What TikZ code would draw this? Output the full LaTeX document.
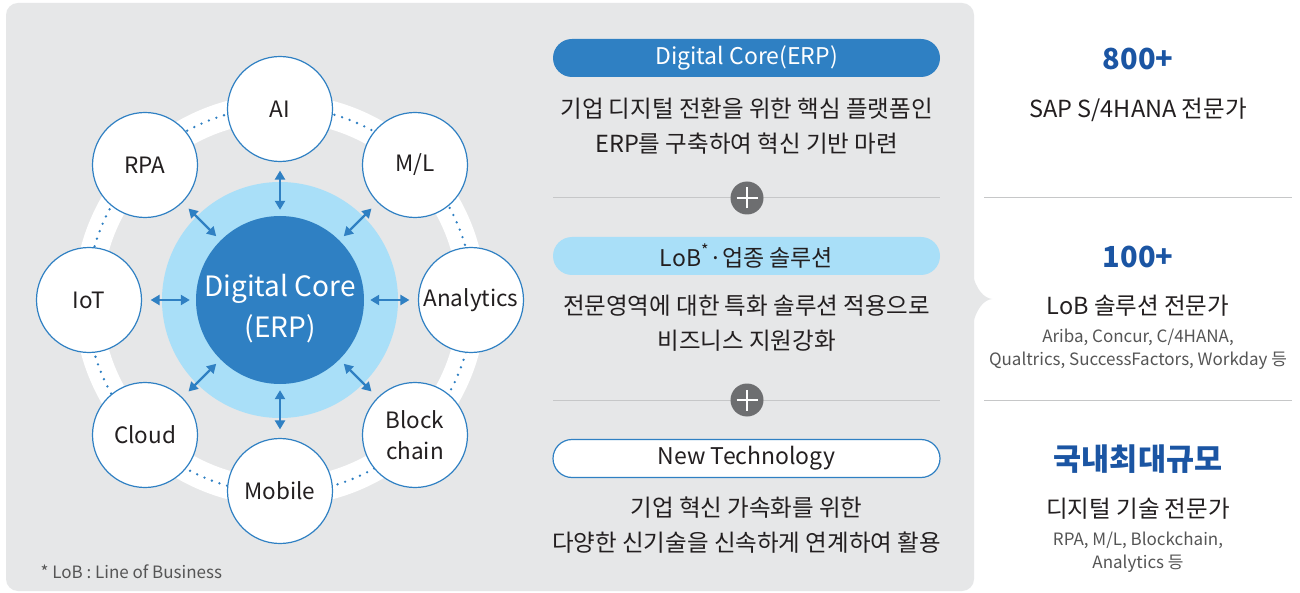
\documentclass[tikz,border=0pt]{standalone}
\usepackage{fontspec}
\setmainfont{Noto Sans CJK KR}
\usetikzlibrary{arrows.meta,calc}
\definecolor{panel}{HTML}{E6E7E8}
\definecolor{coreb}{HTML}{2F80C3}
\definecolor{lightb}{HTML}{A9DFF8}
\definecolor{numb}{HTML}{1B55A3}
\definecolor{plusg}{HTML}{6D6E70}
\definecolor{sepg}{HTML}{C6C7C8}
\definecolor{txt}{HTML}{231F20}
\definecolor{smallg}{HTML}{555555}
\tikzset{
  sat/.style={circle, draw=coreb, line width=1.2pt, fill=white, minimum size=105pt, inner sep=0pt,
    font=\fontsize{22.5}{31}\selectfont, text=txt, align=center},
  arr/.style={coreb, line width=2.2pt, {Triangle[length=9pt,width=10pt]}-{Triangle[length=9pt,width=10pt]},
    shorten <=6pt, shorten >=8.5pt},
  pill/.style={rounded corners=19pt, minimum width=387pt, minimum height=38pt, inner sep=0pt,
    font=\fontsize{23}{26}\selectfont},
  body/.style={align=center, text=txt, font=\fontsize{23.5}{35}\selectfont},
  sepline/.style={sepg, line width=1pt},
  plusc/.style={circle, fill=plusg, minimum size=33pt, inner sep=0pt,
    path picture={\draw[white, line width=1.6pt]
      ([xshift=-10.5pt]path picture bounding box.center) -- ([xshift=10.5pt]path picture bounding box.center)
      ([yshift=-10.5pt]path picture bounding box.center) -- ([yshift=10.5pt]path picture bounding box.center);}},
  bignum/.style={text=numb, font=\fontsize{29}{36}\selectfont\bfseries},
  rtitle/.style={text=txt, font=\fontsize{23.5}{28}\selectfont},
  rsmall/.style={text=smallg, align=center, font=\fontsize{17}{23}\selectfont}
}
\begin{document}
\begin{tikzpicture}[x=1pt,y=-1pt]
\useasboundingbox (0,0) rectangle (1300,593);
\fill[white] (0,0) rectangle (1300,593);
% panel
\fill[panel, rounded corners=12pt] (6,3) rectangle (974,591);
\fill[panel] (972,272) .. controls (976,290) and (984,298) .. (992,299)
  .. controls (984,300) and (976,308) .. (972,328) -- cycle;
% ring
\draw[white, line width=28pt] (280,300) circle (192pt);
\draw[coreb, line width=2.6pt, line cap=round, dash pattern=on 0pt off 8pt] (280,300) circle (193pt);
% core
\node[circle, fill=lightb, minimum size=236pt, inner sep=0pt] (lb) at (280,300) {};
\node[circle, fill=coreb, minimum size=168pt, inner sep=0pt] (c) at (280,300) {};
\node[text=white, align=center, font=\fontsize{28}{41}\selectfont] (ctext) at (280,309) {Digital Core\\(ERP)};
% satellites
\node[sat] (ai) at (280,109) {AI};
\node[sat] (ml) at (415,165) {M/L};
\node[sat] (an) at (471,300) {Analytics};
\node[sat] (bc) at (415,435) {Block\\chain};
\node[sat] (mo) at (280,491) {Mobile};
\node[sat] (cl) at (145,435) {Cloud};
\node[sat] (io) at (89,300) {IoT};
\node[sat] (rp) at (145,165) {RPA};
\foreach \s in {ai,ml,an,bc,mo,cl,io,rp} {\draw[arr] (c) -- (\s);}
% footnote
\node[anchor=west, text=smallg, font=\fontsize{17}{20}\selectfont] (fn) at (37,572) {* LoB : Line of Business};
% middle column
\node[pill, fill=coreb, text=white] (p1) at (746.5,58) {Digital Core(ERP)};
\node[body] (t1) at (746.5,126) {기업 디지털 전환을 위한 핵심 플랫폼인\\ERP를 구축하여 혁신 기반 마련};
\draw[sepline] (553,198) -- (940,198);
\node[plusc] (pl1) at (747,198) {};
\node[pill, fill=lightb, text=txt] (p2) at (746.5,256) {LoB\textsuperscript{*}·업종 솔루션};
\node[body] (t2) at (746.5,323) {전문영역에 대한 특화 솔루션 적용으로\\비즈니스 지원강화};
\draw[sepline] (553,400) -- (940,400);
\node[plusc] (pl2) at (747,400) {};
\node[pill, fill=white, draw=coreb, line width=1.2pt, text=txt] (p3) at (746.5,458.5) {New Technology};
\node[body] (t3) at (746.5,525.5) {기업 혁신 가속화를 위한\\다양한 신기술을 신속하게 연계하여 활용};
% right column
\node[bignum] (n1) at (1138,59) {800+};
\node[rtitle] (r1) at (1138,110) {SAP S/4HANA 전문가};
\draw[sepline] (984,198) -- (1292,198);
\node[bignum] (n2) at (1138,257) {100+};
\node[rtitle] (r2) at (1138,306) {LoB 솔루션 전문가};
\node[rsmall] (s2) at (1138,349.5) {Ariba, Concur, C/4HANA,\\Qualtrics, SuccessFactors, Workday 등};
\draw[sepline] (984,400) -- (1292,400);
\node[bignum, font=\fontsize{30.5}{34}\selectfont\bfseries] (n3) at (1138,459) {국내최대규모};
\node[rtitle] (r3) at (1138,509) {디지털 기술 전문가};
\node[rsmall] (s3) at (1138,552) {RPA, M/L, Blockchain,\\Analytics 등};
\end{tikzpicture}
\end{document}
